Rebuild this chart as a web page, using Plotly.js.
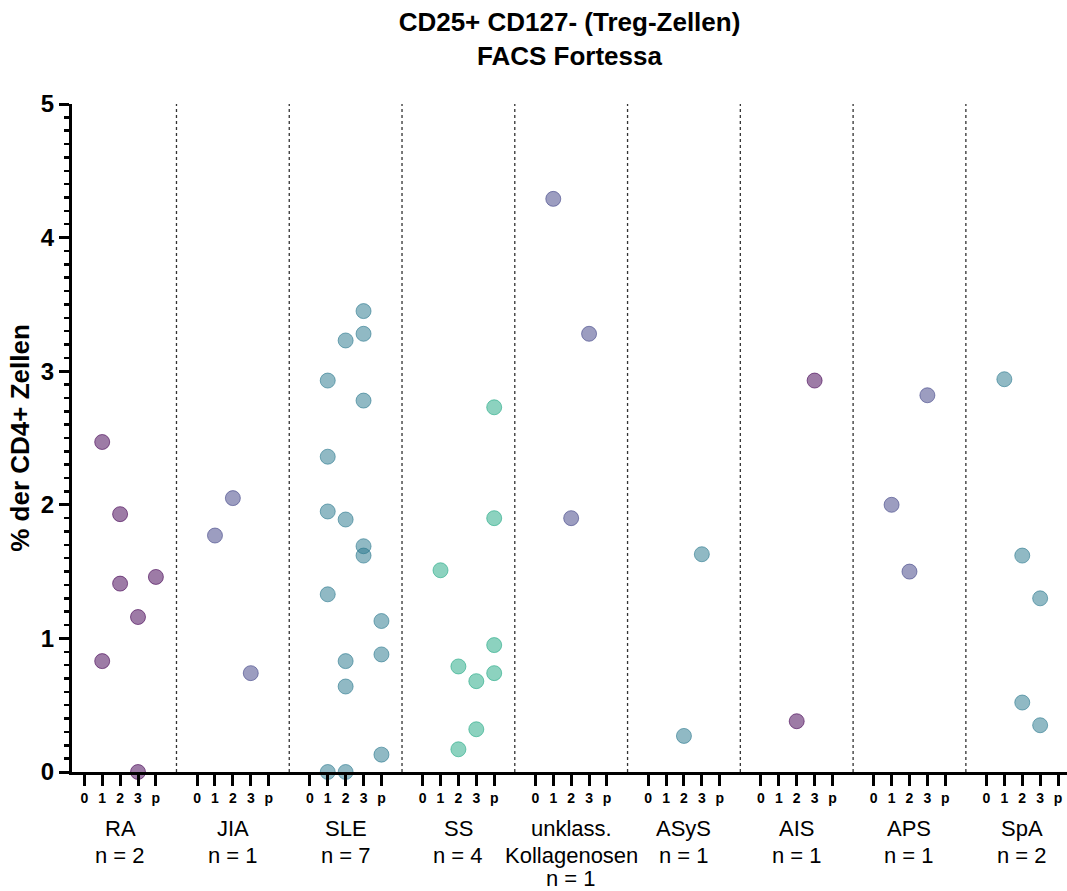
<!DOCTYPE html>
<html>
<head>
<meta charset="utf-8">
<script src="https://cdn.plot.ly/plotly-3.0.1.min.js"></script>
<style>html,body{margin:0;padding:0;background:#fff;}#chart{width:1067px;height:891px;}</style>
</head>
<body>
<div id="chart"></div>
<script>
// ---- data ----
const timeLabels = ['0', '1', '2', '3', 'p'];
const groupNames = [['RA'], ['JIA'], ['SLE'], ['SS'], ['unklass.', 'Kollagenosen'], ['ASyS'], ['AIS'], ['APS'], ['SpA']];
const groupN = [2, 1, 7, 4, 1, 1, 1, 1, 2];

// values per time point (0, 1, 2, 3, p) for each group
const RA    = [[], [2.47, 0.83], [1.93, 1.41], [1.16, 0.0], [1.46]];
const JIA   = [[], [1.77], [2.05], [0.74], []];
const SLE   = [[], [2.93, 2.36, 1.95, 1.33, 0.0], [3.23, 1.89, 0.83, 0.64, 0.0], [3.45, 3.28, 2.78, 1.69, 1.62], [1.13, 0.88, 0.13]];
const SS    = [[], [1.51], [0.79, 0.17], [0.68, 0.32], [2.73, 1.90, 0.95, 0.74]];
const UNKL  = [[], [4.29], [1.90], [3.28], []];
const ASYS  = [[], [], [0.27], [1.63], []];
const AIS   = [[], [], [0.38], [2.93], []];
const APS   = [[], [2.00], [1.50], [2.82], []];
const SPA   = [[], [2.94], [1.62, 0.52], [1.30, 0.35], []];
const groupValues = [RA, JIA, SLE, SS, UNKL, ASYS, AIS, APS, SPA];

// ---- styles ----
const groupColors = ['68,1,84', '65,68,135', '42,120,142', '34,168,132', '65,68,135', '42,120,142', '68,1,84', '65,68,135', '42,120,142'];
const G = 6.3; // spacing between groups in axis units
const FONT = 'Arial, "Liberation Sans", Helvetica, sans-serif';
const PLOT_H = 668;        // plot area height in px
const LINE_Y = [56, 83, 106]; // px below x axis for label lines

const traces = [];
const tickvals = [], ticktext = [];
groupValues.forEach((grp, g) => {
  const xs = [], ys = [];
  grp.forEach((vals, k) => {
    vals.forEach(v => { xs.push(g * G + k); ys.push(v); });
  });
  timeLabels.forEach((t, k) => { tickvals.push(g * G + k); ticktext.push(t); });
  traces.push({
    type: 'scatter', mode: 'markers', x: xs, y: ys, cliponaxis: false,
    hoverinfo: 'skip', showlegend: false,
    marker: { size: 15, color: 'rgba(' + groupColors[g] + ',0.52)',
              line: { width: 1, color: 'rgba(' + groupColors[g] + ',0.6)' } }
  });
});

const shapes = [];
for (let g = 0; g < groupNames.length - 1; g++) {
  const xm = g * G + (4 + G) / 2;
  shapes.push({ type: 'line', xref: 'x', yref: 'paper', x0: xm, x1: xm, y0: 0, y1: 1,
                layer: 'below', line: { color: '#333', width: 1.3, dash: 'dot' } });
}

const annotations = [];
groupNames.forEach((lines, g) => {
  const all = lines.concat(['n = ' + groupN[g]]);
  all.forEach((txt, i) => {
    annotations.push({
      xref: 'x', yref: 'paper', x: g * G + 2, y: -LINE_Y[i] / PLOT_H,
      yanchor: 'middle', xanchor: 'center', showarrow: false, text: txt,
      font: { family: FONT, size: 22, color: '#000' }
    });
  });
});

const layout = {
  width: 1067, height: 891,
  margin: { l: 72, r: 0, t: 104, b: 119 },
  paper_bgcolor: '#fff', plot_bgcolor: '#fff',
  font: { family: FONT, color: '#000' },
  title: { text: 'CD25+ CD127- (Treg-Zellen)<br>FACS Fortessa', x: 0.5, xref: 'paper',
           y: 0.965, yref: 'container', yanchor: 'top',
           font: { family: FONT, size: 26, weight: 700, color: '#000' } },
  xaxis: {
    range: [-0.687, 54.9], tickmode: 'array', tickvals: tickvals, ticktext: ticktext,
    ticks: 'outside', ticklen: 11, tickwidth: 3, tickcolor: '#000',
    showline: true, linewidth: 3, linecolor: '#000', showgrid: false, zeroline: false,
    tickfont: { family: FONT, size: 14, weight: 700, color: '#000' }, fixedrange: true
  },
  yaxis: {
    range: [0, 5], tickmode: 'linear', tick0: 0, dtick: 1,
    ticks: 'outside', ticklen: 10, tickwidth: 3, tickcolor: '#000',
    minor: { dtick: 0.1, ticks: 'outside', ticklen: 5, tickwidth: 2.5, tickcolor: '#000', showgrid: false },
    showline: true, linewidth: 3, linecolor: '#000', showgrid: false, zeroline: false,
    tickfont: { family: FONT, size: 24, weight: 700, color: '#000' },
    title: { text: '% der CD4+ Zellen', standoff: 4, font: { family: FONT, size: 26, weight: 700, color: '#000' } },
    fixedrange: true
  },
  shapes: shapes,
  annotations: annotations
};

Plotly.newPlot('chart', traces, layout, { staticPlot: true, displayModeBar: false });
</script>
</body>
</html>
